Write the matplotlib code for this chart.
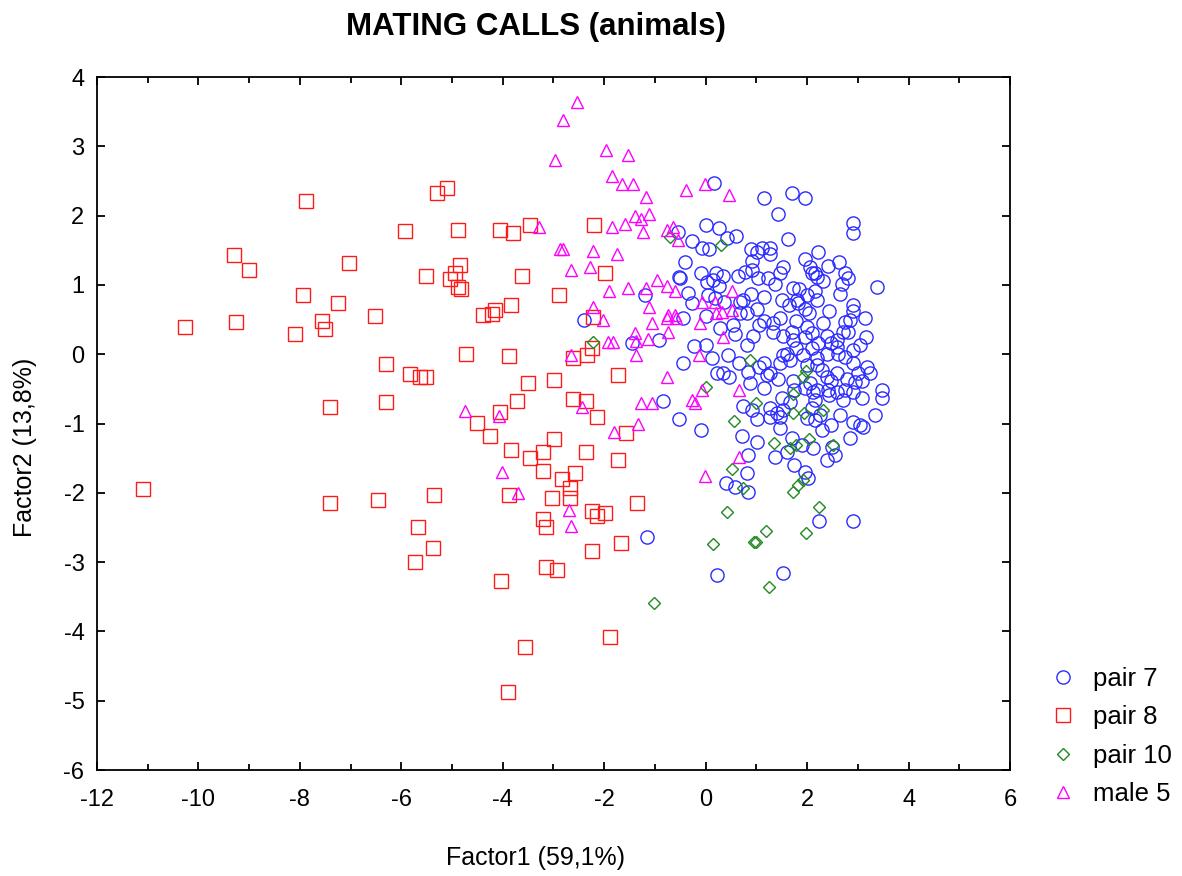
import numpy as np
import matplotlib.pyplot as plt

plt.rcParams['font.family'] = ['Liberation Sans', 'DejaVu Sans']
plt.rcParams['axes.unicode_minus'] = False

# pair 7 (blue circles)
pair7 = [
    (0.16, 2.47), (1.16, 2.25), (1.70, 2.32), (1.95, 2.25), (1.42, 2.02), (2.90, 1.90), (2.90, 1.75),
    (0.0, 1.86), (0.26, 1.82), (0.43, 1.68), (0.59, 1.70), (-0.26, 1.63), (-0.08, 1.54), (0.06, 1.52),
    (1.62, 1.67), (0.89, 1.52), (1.01, 1.47), (1.12, 1.54), (1.26, 1.53), (1.26, 1.44), (2.21, 1.47),
    (1.95, 1.37), (0.91, 1.34), (-0.41, 1.33), (2.41, 1.28), (2.62, 1.33), (2.05, 1.26), (2.09, 1.17),
    (2.15, 1.17), (1.52, 1.26), (1.46, 1.17), (0.91, 1.21), (-0.10, 1.17), (0.20, 1.17), (0.35, 1.13),
    (0.63, 1.13), (1.04, 1.10), (1.22, 1.10), (2.74, 1.17), (2.80, 1.10), (2.31, 1.05), (3.37, 0.97),
    (0.02, 1.04), (0.14, 1.07), (0.26, 0.98), (-0.51, 1.10), (-0.34, 0.89), (0.89, 0.87), (1.16, 0.82),
    (1.50, 0.79), (1.72, 0.95), (1.85, 0.94), (2.15, 0.92), (2.19, 0.79), (2.64, 0.87), (2.90, 0.71),
    (2.90, 0.62), (0.04, 0.85), (0.18, 0.81), (0.37, 0.75), (-0.26, 0.74), (0.67, 0.75), (0.67, 0.59),
    (0.81, 0.59), (1.01, 0.66), (1.64, 0.71), (1.83, 0.74), (1.95, 0.66), (2.03, 0.59), (2.43, 0.62),
    (-0.45, 0.52), (0.0, 0.55), (1.16, 0.48), (1.46, 0.52), (1.79, 0.48), (2.31, 0.45), (2.74, 0.46),
    (3.15, 0.52), (0.28, 0.38), (0.53, 0.42), (1.06, 0.42), (1.70, 0.32), (1.95, 0.25), (1.32, 0.32),
    (1.52, 0.27), (0.93, 0.27), (0.57, 0.29), (2.70, 0.32), (2.80, 0.32), (3.17, 0.25), (-0.22, 0.12),
    (0.0, 0.14), (2.48, 0.16), (2.21, 0.16), (3.04, 0.13), (-0.45, -0.12), (0.12, -0.06), (0.22, -0.27),
    (0.34, -0.27), (0.47, -0.33), (0.45, -0.01), (0.65, -0.12), (0.83, -0.26), (0.87, -0.42), (1.06, -0.19),
    (1.16, -0.12), (0.73, -0.74), (0.91, -0.81), (1.01, -0.94), (1.16, -0.48), (1.26, -0.27), (1.42, -0.36),
    (1.46, -0.13), (1.66, -0.09), (1.72, 0.20), (1.50, -0.63), (1.66, -0.69), (1.75, -0.52), (1.26, -0.78),
    (1.40, -0.85), (1.26, -0.91), (1.52, -0.81), (1.46, -0.91), (1.95, -0.49), (2.05, -0.42), (2.15, -0.66),
    (2.11, -0.55), (2.19, -0.16), (2.29, -0.23), (2.39, -0.33), (2.48, -0.38), (2.58, -0.27), (2.41, -0.52),
    (2.58, -0.55), (2.70, -0.66), (2.74, -0.52), (2.90, -0.12), (3.0, -0.27), (3.08, -0.38), (3.19, -0.19),
    (3.23, -0.27), (3.08, -0.63), (2.90, -0.55), (3.47, -0.52), (3.47, -0.63), (3.33, -0.88), (2.39, 0.01),
    (2.58, 0.10), (2.74, -0.04), (2.90, 0.06), (1.91, -0.01), (1.79, 0.09), (2.09, 0.09), (2.09, -0.78),
    (1.99, -0.92), (2.25, -0.88), (2.29, -1.10), (2.11, -1.36), (1.89, -1.31), (1.70, -1.21), (2.48, -1.02),
    (2.64, -0.88), (2.90, -0.98), (3.04, -1.02), (2.84, -1.21), (3.10, -1.05), (2.50, -1.34), (2.54, -1.46),
    (2.39, -1.53), (1.36, -1.49), (1.60, -1.41), (1.75, -1.60), (1.95, -1.70), (2.01, -1.79), (1.01, -1.27),
    (0.71, -1.18), (0.83, -1.46), (0.81, -1.72), (0.83, -1.99), (0.41, -1.86), (0.57, -1.92), (-0.10, -1.10),
    (2.23, -2.41), (2.90, -2.41), (0.22, -3.19), (1.52, -3.15), (1.46, -1.07), (-0.55, 1.76), (-0.53, 1.11),
    (-1.20, 0.85), (-2.39, 0.49), (-1.46, 0.16), (-0.91, 0.20), (-0.85, -0.68), (-0.53, -0.94), (-1.16, -2.64),
    (0.77, 1.18), (1.36, 1.02), (2.19, 1.11), (2.68, 1.02), (0.73, 0.78), (1.81, 0.78), (1.99, 0.85),
    (2.84, 0.49), (1.32, 0.45), (1.99, 0.39), (2.39, 0.27), (2.09, 0.30), (2.58, 0.20), (0.81, 0.13),
    (1.60, 0.01), (2.19, -0.06), (2.60, 0.01), (1.52, -0.01), (2.94, -0.40), (1.99, -0.16), (2.78, -0.35),
    (1.20, -0.30), (1.72, -0.38), (2.19, -0.52), (2.44, -0.59), (2.15, -0.95),
]

# pair 8 (red squares)
pair8 = [
    (-11.1, -1.95), (-10.27, 0.39), (-9.3, 1.43), (-9.26, 0.47), (-9.0, 1.21), (-7.88, 2.21), (-7.94, 0.85),
    (-8.1, 0.29), (-7.25, 0.74), (-7.03, 1.32), (-7.56, 0.48), (-7.5, 0.36), (-7.4, -0.76), (-7.4, -2.15),
    (-6.52, 0.55), (-6.46, -2.1), (-6.3, -0.14), (-6.3, -0.69), (-5.93, 1.78), (-5.83, -0.29), (-5.63, -0.33),
    (-5.51, -0.33), (-5.51, 1.13), (-5.67, -2.49), (-5.73, -3.0), (-5.38, -2.8), (-5.36, -2.03), (-5.3, 2.33),
    (-5.1, 2.4), (-4.88, 1.79), (-5.04, 1.09), (-4.84, 1.29), (-4.94, 1.17), (-4.88, 0.97), (-4.82, 0.94),
    (-4.72, 0.01), (-4.51, -0.99), (-4.25, -1.18), (-4.05, 1.79), (-3.8, 1.75), (-3.46, 1.86), (-3.62, 1.13),
    (-3.84, 0.71), (-4.15, 0.64), (-4.21, 0.58), (-4.39, 0.57), (-3.88, -0.03), (-3.72, -0.68), (-4.05, -0.83),
    (-3.5, -0.42), (-2.99, -0.37), (-3.84, -1.38), (-3.46, -1.5), (-3.88, -2.03), (-4.03, -3.27), (-3.56, -4.23),
    (-3.9, -4.87), (-2.99, -1.22), (-3.21, -1.41), (-3.21, -1.69), (-3.21, -2.38), (-3.15, -2.49), (-3.15, -3.07),
    (-2.93, -3.11), (-3.03, -2.08), (-2.62, -0.65), (-2.36, -0.68), (-2.89, 0.85), (-2.67, -1.93), (-2.67, -2.08),
    (-2.62, -0.05), (-2.34, -0.01), (-2.24, 0.09), (-2.22, 0.54), (-2.36, -1.41), (-2.24, -2.26), (-2.14, -2.33),
    (-1.98, -2.29), (-2.24, -2.84), (-2.14, -0.91), (-2.2, 1.86), (-1.98, 1.17), (-1.89, -4.08), (-1.73, -0.3),
    (-1.73, -1.53), (-1.67, -2.72), (-1.57, -1.14), (-1.35, -2.15), (-2.83, -1.8), (-2.58, -1.71),
]

# pair 10 (green diamonds)
pair10 = [
    (0.87, -0.09), (1.98, -0.24), (1.92, -0.33), (0.01, -0.47), (1.72, -0.57), (1.0, -0.7), (1.72, -0.85),
    (1.94, -0.85), (2.31, -0.81), (0.56, -0.96), (1.35, -1.28), (1.66, -1.35), (1.78, -1.31), (2.04, -1.22),
    (2.51, -1.31), (0.52, -1.66), (0.74, -1.93), (1.72, -1.99), (1.82, -1.89), (1.92, -1.82), (2.23, -2.2),
    (0.42, -2.28), (1.19, -2.55), (1.98, -2.58), (0.15, -2.74), (0.95, -2.71), (0.99, -2.71), (1.25, -3.36),
    (0.3, 1.58), (-0.7, 1.69), (-2.22, 0.18), (-1.02, -3.59),
]

# male 5 (magenta triangles)
male5 = [
    (-2.54, 3.64), (-2.81, 3.38), (-2.97, 2.80), (-1.96, 2.95), (-1.53, 2.87), (-1.85, 2.57), (-1.65, 2.46),
    (-1.43, 2.46), (-1.18, 2.27), (-0.39, 2.37), (-0.01, 2.46), (0.46, 2.3), (-1.39, 1.99), (-1.27, 1.95),
    (-1.12, 2.02), (-1.85, 1.84), (-1.59, 1.88), (-1.24, 1.76), (-0.76, 1.79), (-0.64, 1.84), (-0.54, 1.65),
    (-3.29, 1.84), (-2.87, 1.52), (-2.81, 1.52), (-2.22, 1.49), (-1.75, 1.45), (-2.65, 1.21), (-2.28, 1.26),
    (-1.91, 0.91), (-1.53, 0.96), (-1.18, 0.96), (-0.96, 1.07), (-0.76, 0.98), (-0.6, 0.91), (-2.22, 0.68),
    (-1.12, 0.68), (-0.74, 0.57), (-0.6, 0.57), (-2.02, 0.49), (-1.06, 0.45), (-0.76, 0.52), (-0.58, 0.52),
    (-1.39, 0.31), (-1.37, 0.19), (-1.14, 0.22), (-0.74, 0.32), (-1.93, 0.18), (-1.83, 0.18), (-1.37, -0.01),
    (-2.65, -0.01), (-0.76, -0.33), (-1.27, -0.7), (-1.06, -0.7), (-0.27, -0.66), (-0.21, -0.7), (-4.74, -0.82),
    (-4.07, -0.89), (-2.44, -0.76), (-1.81, -1.12), (-1.33, -1.01), (-4.01, -1.7), (-3.7, -2.0), (-2.69, -2.25),
    (-2.65, -2.48), (-0.07, 0.75), (0.18, 0.75), (0.2, 0.59), (0.32, 0.61), (0.52, 0.64), (-0.12, 0.45),
    (0.34, 0.25), (-0.14, -0.01), (0.52, 0.91), (-0.07, -0.52), (0.66, -0.52), (0.66, -1.48), (-0.02, -1.76),
]

groups = [
    ('pair 7', pair7, 'o', '#2b2bff', 9.5),
    ('pair 8', pair8, 's', '#ff1a1a', 9.5),
    ('pair 10', pair10, 'D', '#1f8a1f', 5.8),
    ('male 5', male5, '^', '#ff00ff', 8.5),
]

fig = plt.figure(figsize=(11.82, 8.76), dpi=100)
ax = fig.add_axes([0.082, 0.121, 0.7725, 0.791])

for name, pts, mk, col, ms in groups:
    arr = np.array(pts)
    ax.plot(arr[:, 0], arr[:, 1], linestyle='none', marker=mk, markersize=ms,
            markerfacecolor='none', markeredgecolor=col, markeredgewidth=1.0, label=name)

ax.set_xlim(-12, 6)
ax.set_ylim(-6, 4)
ax.set_xticks(np.arange(-12, 7, 2))
ax.set_xticks(np.arange(-12, 7, 1), minor=True)
ax.set_yticks(np.arange(-6, 5, 1))
ax.tick_params(which='both', direction='in', top=True, right=True, labelsize=17, width=1.3)
ax.tick_params(which='major', length=6)
ax.tick_params(axis='x', which='major', pad=14)
ax.tick_params(axis='y', which='major', pad=9)
ax.tick_params(which='minor', length=4)
for s in ax.spines.values():
    s.set_linewidth(1.3)

ax.set_xlabel('Factor1 (59,1%)', fontsize=18, va='center')
ax.xaxis.set_label_coords(0.48, -0.127)
ax.set_ylabel('Factor2 (13,8%)', fontsize=18, va='center')
ax.yaxis.set_label_coords(-0.079, 0.466)
fig.text(0.4535, 0.969, 'MATING CALLS (animals)', fontsize=22.5, fontweight='bold',
         ha='center', va='center')

ax.legend(loc='upper left', bbox_to_anchor=(1.033, 0.163), frameon=False, fontsize=18.5,
          handlelength=1.0, handletextpad=0.65, labelspacing=0.55, borderaxespad=0)

fig.savefig('out.png', dpi=100)
